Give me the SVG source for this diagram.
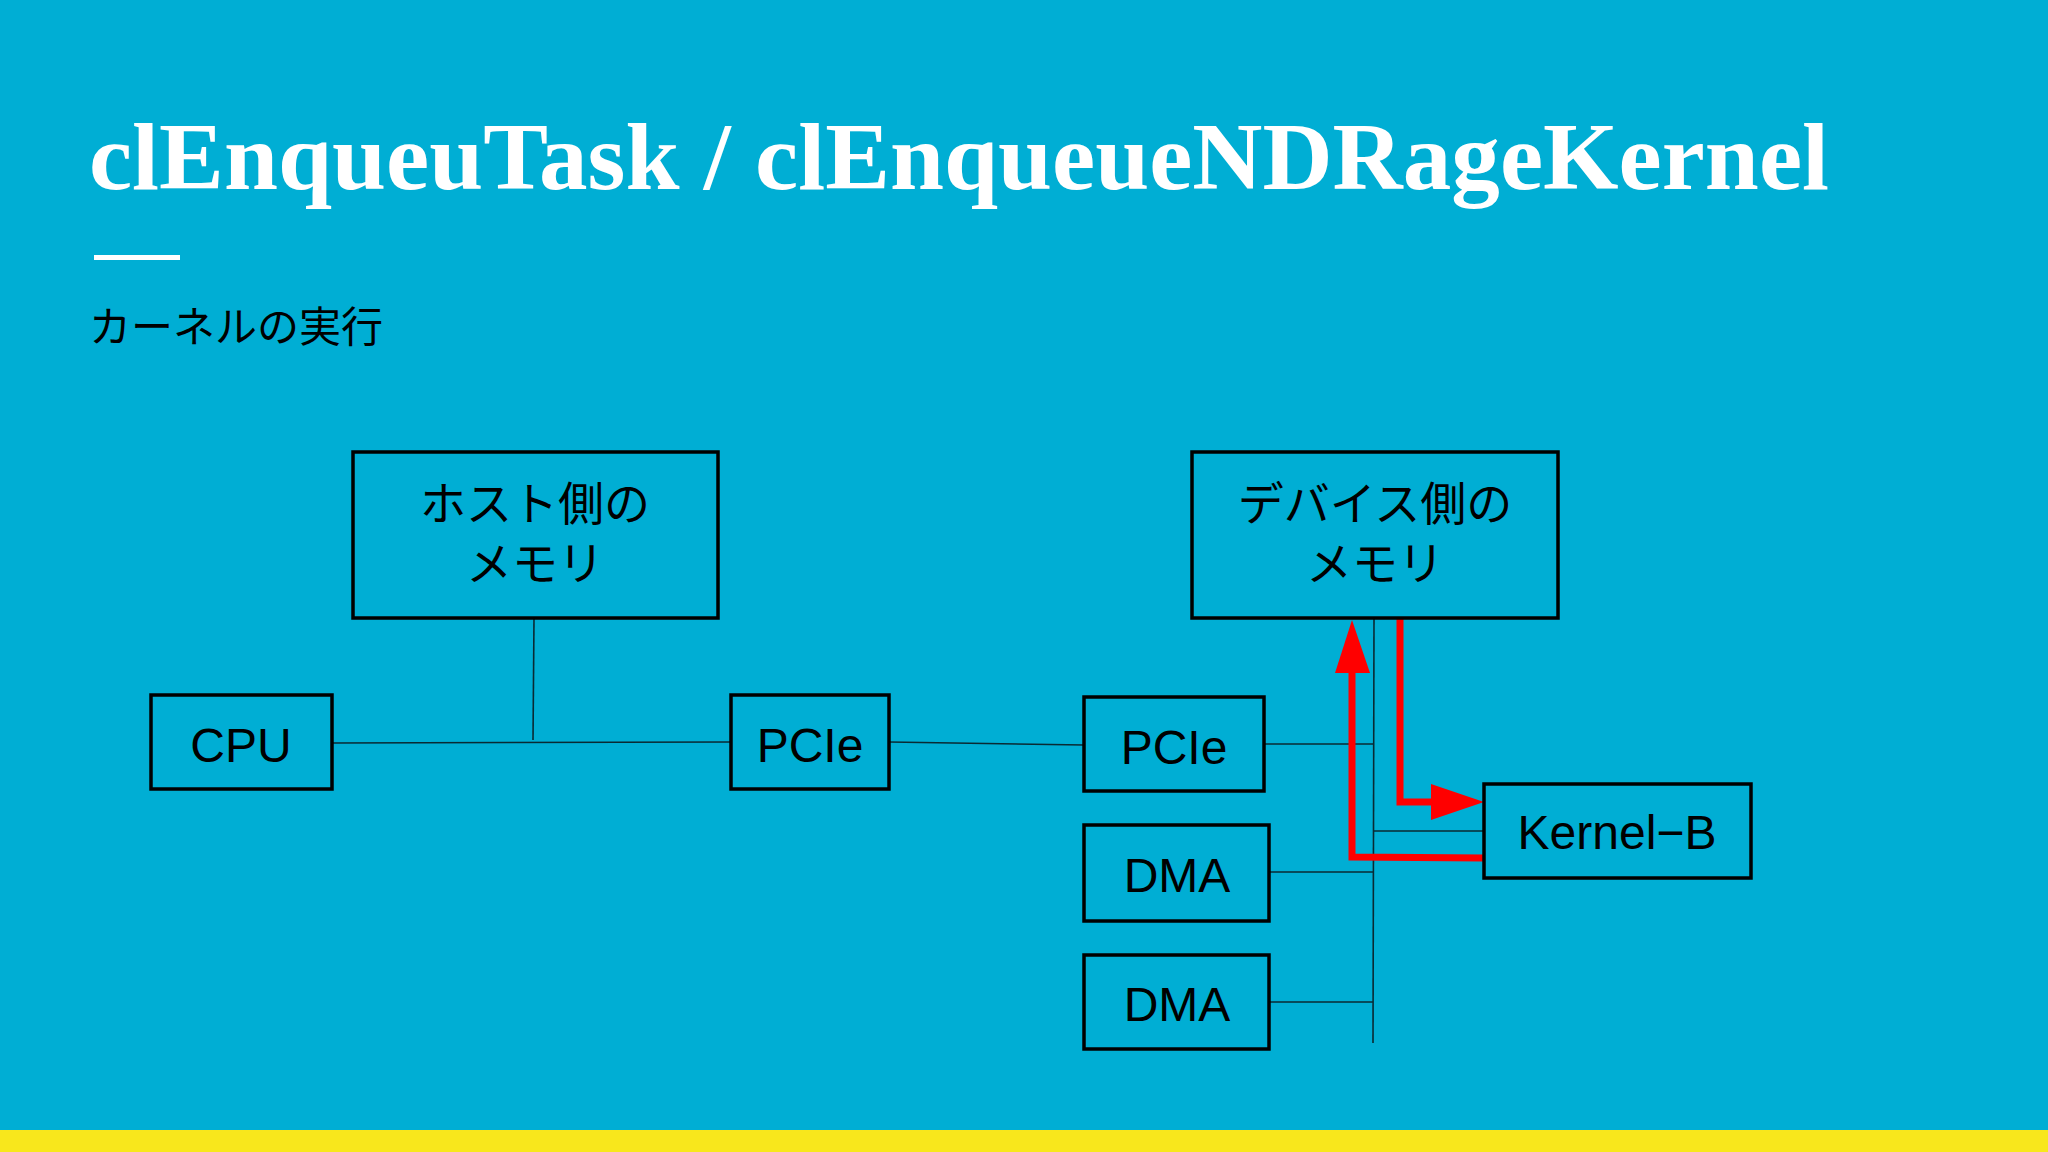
<svg xmlns="http://www.w3.org/2000/svg" width="2048" height="1152" viewBox="0 0 2048 1152">
<style>
.box{fill:none;stroke:#000;stroke-width:3.5}
.t{font-family:"Liberation Sans","Noto Sans CJK JP",sans-serif;font-size:48px;fill:#000;text-anchor:middle}
.j{font-family:"Noto Sans CJK JP",sans-serif;font-size:46px;fill:#000;text-anchor:middle}
.ln{stroke:#0a2a33;stroke-width:1.6;fill:none}
.red{stroke:#ff0000;stroke-width:7;fill:none}
</style>
<rect width="2048" height="1152" fill="#00AED4"/>
<rect y="1130" width="2048" height="22" fill="#F8E71C"/>
<text x="89" y="189" font-family="Liberation Serif,serif" font-weight="bold" font-size="96" fill="#fff" textLength="1740" lengthAdjust="spacingAndGlyphs">clEnqueuTask / clEnqueueNDRageKernel</text>
<rect x="94" y="255" width="86" height="5" fill="#fff"/>
<text x="89" y="342" font-family="Noto Sans CJK JP,sans-serif" font-size="42" fill="#000">カーネルの実行</text>
<g id="connectors">
<line class="ln" x1="534" y1="618" x2="533" y2="740"/>
<line class="ln" x1="332" y1="743" x2="731" y2="742"/>
<line class="ln" x1="889" y1="742" x2="1084" y2="745"/>
<line class="ln" x1="1374" y1="618" x2="1373" y2="1043"/>
<line class="ln" x1="1264" y1="744" x2="1373" y2="744"/>
<line class="ln" x1="1269" y1="872" x2="1373" y2="872"/>
<line class="ln" x1="1269" y1="1002" x2="1373" y2="1002"/>
<line class="ln" x1="1373" y1="831" x2="1484" y2="831"/>
<polyline class="red" points="1484,858 1352,857 1352,668"/>
<polygon points="1352,620 1335,673 1370,673" fill="#ff0000"/>
<polyline class="red" points="1400,618 1400,802 1435,802"/>
<polygon points="1484,802 1431,784 1431,820" fill="#ff0000"/>
</g>
<g id="host-mem"><rect class="box" x="353" y="452" width="365" height="166"/><text class="j" x="535" y="520">ホスト側の</text><text class="j" x="535" y="580">メモリ</text></g>
<g id="cpu"><rect class="box" x="151" y="695" width="181" height="94"/><text class="t" x="241" y="762">CPU</text></g>
<g id="pcie1"><rect class="box" x="731" y="695" width="158" height="94"/><text class="t" x="810" y="762">PCIe</text></g>
<g id="pcie2"><rect class="box" x="1084" y="697" width="180" height="94"/><text class="t" x="1174" y="764">PCIe</text></g>
<g id="dma1"><rect class="box" x="1084" y="825" width="185" height="96"/><text class="t" x="1177" y="892">DMA</text></g>
<g id="dma2"><rect class="box" x="1084" y="955" width="185" height="94"/><text class="t" x="1177" y="1021">DMA</text></g>
<g id="dev-mem"><rect class="box" x="1192" y="452" width="366" height="166"/><text class="j" x="1375" y="520">デバイス側の</text><text class="j" x="1375" y="580">メモリ</text></g>
<g id="kernel-b"><rect class="box" x="1484" y="784" width="267" height="94"/><text class="t" x="1617" y="849">Kernel−B</text></g>
</svg>
